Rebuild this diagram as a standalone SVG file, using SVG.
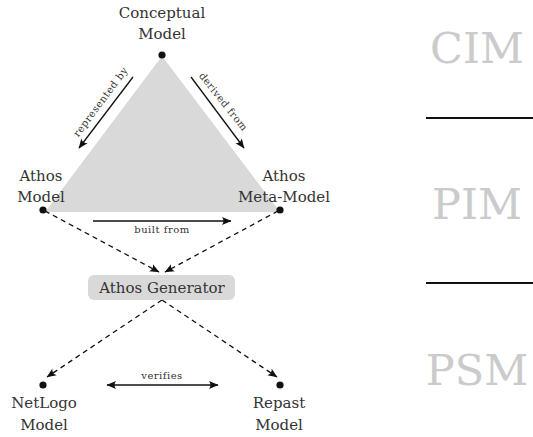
<svg xmlns="http://www.w3.org/2000/svg" width="533" height="437" viewBox="0 0 533 437">
<style>
  .lbl { font-family: "DejaVu Serif", "Liberation Serif", serif; font-size: 15px; fill: #333; text-anchor: middle; }
  .sm { font-family: "DejaVu Serif", "Liberation Serif", serif; font-size: 10px; letter-spacing: 0.5px; fill: #333; text-anchor: middle; }
  .big { font-family: "DejaVu Serif", "Liberation Serif", serif; font-size: 43px; fill: #cbcbcb; text-anchor: middle; }
  .solid { stroke: #111; stroke-width: 1.3; fill: none; }
  .dash { stroke: #111; stroke-width: 1.3; fill: none; stroke-dasharray: 5 4; }
  .dot { fill: #111; }
</style>
<defs>
  <marker id="ah" markerUnits="userSpaceOnUse" viewBox="-10 -5 11 10" refX="0" refY="0" markerWidth="11" markerHeight="10" orient="auto-start-reverse">
    <path d="M0.5,0 L-9,-4 Q-6,0 -9,4 Z" fill="#111"/>
  </marker>
</defs>
<rect width="533" height="437" fill="#fff"/>
<g id="triangle">
  <polygon points="162,56 45,212 280,212" fill="#d9d9d9"/>
</g>
<g id="layers">
  <text class="big" x="477" y="63">CIM</text>
  <line x1="426" y1="118" x2="533" y2="118" stroke="#111" stroke-width="2"/>
  <text class="big" x="477" y="219">PIM</text>
  <line x1="426" y1="283" x2="533" y2="283" stroke="#111" stroke-width="2"/>
  <text class="big" x="477" y="385">PSM</text>
</g>
<g id="connectors">
  <line class="solid" x1="133" y1="77" x2="79" y2="148" marker-end="url(#ah)"/>
  <text class="sm" transform="translate(103.4,103.8) rotate(-53.3)">represented by</text>
  <line class="solid" x1="191" y1="77" x2="244" y2="148" marker-end="url(#ah)"/>
  <text class="sm" transform="translate(220.7,103.9) rotate(51.5)">derived from</text>
  <line class="solid" x1="93" y1="221" x2="231" y2="221" marker-end="url(#ah)"/>
  <text class="sm" x="162" y="233">built from</text>
  <line class="dash" x1="45" y1="211" x2="159" y2="272" marker-end="url(#ah)"/>
  <line class="dash" x1="278" y1="211" x2="165" y2="272" marker-end="url(#ah)"/>
  <line class="dash" x1="162" y1="300" x2="47" y2="377" marker-end="url(#ah)"/>
  <line class="dash" x1="162" y1="300" x2="277" y2="377" marker-end="url(#ah)"/>
  <line class="solid" x1="107" y1="385" x2="218" y2="385" marker-start="url(#ah)" marker-end="url(#ah)"/>
  <text class="sm" x="162" y="379">verifies</text>
</g>
<g id="conceptual">
  <circle class="dot" cx="162" cy="55" r="3.6"/>
  <text class="lbl" x="162" y="18">Conceptual</text>
  <text class="lbl" x="162" y="39">Model</text>
</g>
<g id="athos-model">
  <circle class="dot" cx="43" cy="210" r="3.6"/>
  <text class="lbl" x="41" y="181">Athos</text>
  <text class="lbl" x="41" y="202">Model</text>
</g>
<g id="athos-meta-model">
  <circle class="dot" cx="280" cy="210" r="3.6"/>
  <text class="lbl" x="284" y="181">Athos</text>
  <text class="lbl" x="284" y="202">Meta-Model</text>
</g>
<g id="athos-generator">
  <rect x="88" y="275" width="147" height="25" rx="6" fill="#d9d9d9"/>
  <text class="lbl" x="162" y="293">Athos Generator</text>
</g>
<g id="netlogo">
  <circle class="dot" cx="43" cy="385" r="3.6"/>
  <text class="lbl" x="44" y="408">NetLogo</text>
  <text class="lbl" x="44" y="430">Model</text>
</g>
<g id="repast">
  <circle class="dot" cx="280" cy="385" r="3.6"/>
  <text class="lbl" x="279" y="408">Repast</text>
  <text class="lbl" x="279" y="430">Model</text>
</g>
</svg>
